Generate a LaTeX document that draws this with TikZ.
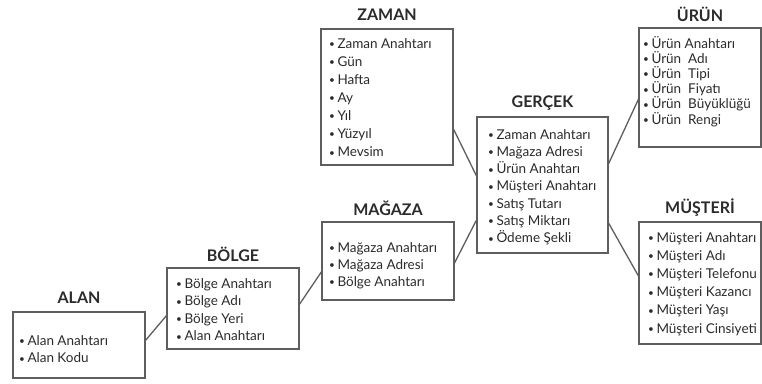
\documentclass[tikz,border=0pt]{standalone}
\usepackage{fontspec}
\setmainfont{Lato}
\definecolor{boxline}{HTML}{5E5E5E}
\definecolor{txt}{HTML}{2B2B2B}
\newcommand{\bul}{{\fontsize{10}{10}\selectfont\raisebox{0.6pt}{•}}\hspace{2.5pt}}
\begin{document}
\begin{tikzpicture}[x=1pt,y=-1pt,
  box/.style={draw=boxline, line width=1.3pt, inner sep=0pt, outer sep=0pt, fill=white},
  title/.style={font=\fontsize{16}{19}\selectfont\bfseries, text=txt, inner sep=0pt, anchor=center},
  item/.style={font=\fontsize{13.5}{15}\selectfont, text=txt, inner sep=0pt, anchor=base west},
  conn/.style={draw=boxline, line width=1.3pt}]
\useasboundingbox (0,0) rectangle (762,383);
\fill[white] (0,0) rectangle (762,383);

% boxes
\node[box, minimum width=132pt, minimum height=66pt]  (alan)    at (79,345)    {};
\node[box, minimum width=132pt, minimum height=81pt]  (bolge)   at (233,308.5) {};
\node[box, minimum width=132pt, minimum height=136pt] (zaman)   at (387,97)    {};
\node[box, minimum width=132pt, minimum height=78pt]  (magaza)  at (388,261)   {};
\node[box, minimum width=131pt, minimum height=136pt] (gercek)  at (542.5,185) {};
\node[box, minimum width=122pt, minimum height=119pt] (urun)    at (700,87.5)  {};
\node[box, minimum width=122pt, minimum height=122pt] (musteri) at (700,283)   {};

% titles
\node[title] (t-alan)    at (79,298)    {ALAN};
\node[title] (t-bolge)   at (233,254)   {BÖLGE};
\node[title] (t-zaman)   at (387,15)    {ZAMAN};
\node[title] (t-magaza)  at (388,208)   {MAĞAZA};
\node[title] (t-gercek)  at (542.5,103) {GERÇEK};
\node[title] (t-urun)    at (700,14)    {ÜRÜN};
\node[title] (t-musteri) at (700,208)   {MÜŞTERİ};

% items
\foreach \t [count=\i] in {Alan Anahtarı, Alan Kodu}
  \node[item] (alan-\i) at (19,{345+17.7*(\i-1)}) {\bul\t};
\foreach \t [count=\i] in {Bölge Anahtarı, Bölge Adı, Bölge Yeri, Alan Anahtarı}
  \node[item] (bolge-\i) at (176,{288+17.6*(\i-1)}) {\bul\t};
\foreach \t [count=\i] in {Zaman Anahtarı, Gün, Hafta, Ay, Yıl, Yüzyıl, Mevsim}
  \node[item] (zaman-\i) at (329,{48+18.1*(\i-1)}) {\bul\t};
\foreach \t [count=\i] in {Mağaza Anahtarı, Mağaza Adresi, Bölge Anahtarı}
  \node[item] (magaza-\i) at (329,{252+17*(\i-1)}) {\bul\t};
\foreach \t [count=\i] in {Zaman Anahtarı, Mağaza Adresi, Ürün Anahtarı, Müşteri Anahtarı, Satış Tutarı, Satış Miktarı, Ödeme Şekli}
  \node[item] (gercek-\i) at (488,{139+17.3*(\i-1)}) {\bul\t};
\foreach \t [count=\i] in {Ürün Anahtarı, Ürün\hspace{3.5pt} Adı, Ürün\hspace{3.5pt} Tipi, Ürün\hspace{3.5pt} Fiyatı, Ürün\hspace{3.5pt} Büyüklüğü, Ürün\hspace{3.5pt} Rengi}
  \node[item] (urun-\i) at (643,{48+15.2*(\i-1)}) {\bul\t};
\foreach \t [count=\i] in {Müşteri Anahtarı, Müşteri Adı, Müşteri Telefonu, Müşteri Kazancı, Müşteri Yaşı, Müşteri Cinsiyeti}
  \node[item] (musteri-\i) at (648,{242+18.2*(\i-1)}) {\bul\t};

% connectors
\draw[conn] ([yshift=4pt]alan.east)     -- ([yshift=-6.5pt]bolge.west);
\draw[conn] ([yshift=3.5pt]bolge.east)  -- ([yshift=-10pt]magaza.west);
\draw[conn] ([yshift=-31pt]zaman.east)  -- ([yshift=8pt]gercek.west);
\draw[conn] ([yshift=-3pt]magaza.east)  -- ([yshift=-34pt]gercek.west);
\draw[conn] ([yshift=20pt]gercek.east)  -- ([yshift=-10.5pt]urun.west);
\draw[conn] ([yshift=-37pt]gercek.east) -- ([yshift=6pt]musteri.west);
\end{tikzpicture}
\end{document}
